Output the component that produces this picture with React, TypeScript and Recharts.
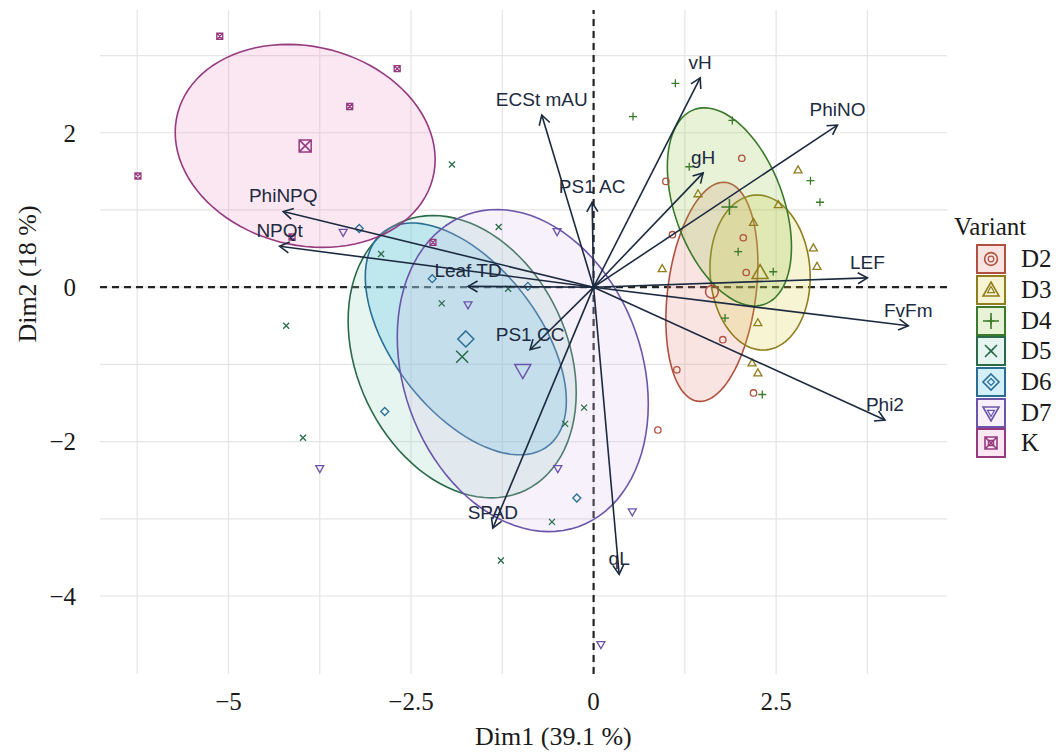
import React from 'react';
import { ScatterChart, Scatter, XAxis, YAxis, CartesianGrid, ReferenceLine } from 'recharts';

// groups (Variant)
const groups = ['D2', 'D3', 'D4', 'D5', 'D6', 'D7', 'K'];
const groupColors = ['#b0503f', '#8f7d1e', '#3a7a2a', '#2a6a4a', '#2a6e96', '#6b55aa', '#963a80'];
const groupFills = ['#e7837b', '#d7cb37', '#93c34b', '#8fd0bc', '#38b4ea', '#d4c0e6', '#ef93bf'];
const groupShapes = ['circle', 'triangle', 'plus', 'cross', 'diamond', 'triangleDown', 'squareCross'];

// individuals, Dim1 / Dim2
const pointsD2 = [
  { x: 2.03, y: 1.67 }, { x: 0.99, y: 1.37 }, { x: 2.05, y: 0.64 }, { x: 2.09, y: 0.19 },
  { x: 1.77, y: -0.68 }, { x: 1.14, y: -1.07 }, { x: 2.19, y: -1.37 }, { x: 0.88, y: -1.85 },
  { x: 1.08, y: 0.68 },
];
const pointsD3 = [
  { x: 2.8, y: 1.52 }, { x: 1.43, y: 1.21 }, { x: 2.19, y: 0.84 }, { x: 3.01, y: 0.51 },
  { x: 3.06, y: 0.27 }, { x: 0.94, y: 0.24 }, { x: 2.25, y: -0.46 }, { x: 2.17, y: -0.98 },
  { x: 2.25, y: -1.11 }, { x: 2.53, y: 1.07 },
];
const pointsD4 = [
  { x: 1.12, y: 2.64 }, { x: 0.54, y: 2.21 }, { x: 1.9, y: 2.16 }, { x: 1.31, y: 1.56 },
  { x: 2.97, y: 1.38 }, { x: 3.1, y: 1.1 }, { x: 1.98, y: 0.46 }, { x: 2.46, y: 0.2 },
  { x: 1.8, y: -0.4 }, { x: 2.31, y: -1.39 },
];
const pointsD5 = [
  { x: -1.94, y: 1.59 }, { x: -1.3, y: 0.78 }, { x: -4.21, y: -0.5 }, { x: -3.98, y: -1.95 },
  { x: -2.91, y: 0.43 }, { x: -2.08, y: -0.21 }, { x: -1.17, y: -0.02 }, { x: -0.13, y: -1.56 },
  { x: -0.39, y: -1.77 }, { x: -0.57, y: -3.04 }, { x: -1.27, y: -3.54 },
];
const pointsD6 = [
  { x: -3.21, y: 0.76 }, { x: -2.21, y: 0.11 }, { x: -0.9, y: 0.01 }, { x: -2.86, y: -1.61 },
  { x: -0.23, y: -2.73 },
];
const pointsD7 = [
  { x: -3.43, y: 0.71 }, { x: -0.5, y: 0.72 }, { x: -1.72, y: -0.23 }, { x: -0.49, y: -2.35 },
  { x: 0.53, y: -2.91 }, { x: -3.75, y: -2.35 }, { x: 0.1, y: -4.63 },
];
const pointsK = [
  { x: -5.12, y: 3.25 }, { x: -2.69, y: 2.83 }, { x: -3.34, y: 2.34 }, { x: -6.24, y: 1.44 },
  { x: -4.13, y: 0.65 }, { x: -2.2, y: 0.58 },
];
const groupPoints = [pointsD2, pointsD3, pointsD4, pointsD5, pointsD6, pointsD7, pointsK];

// group means and the two half-axis vectors of each confidence ellipse
const centroids = [[1.62, -0.06], [2.28, 0.19], [1.86, 1.04], [-1.8, -0.9], [-1.75, -0.67], [-0.97, -1.08], [-3.95, 1.83]];
const ellipseAxisA = [[0.63, 0.363], [0.685, 0], [0.85, -0.518], [1.562, -0.466], [1.377, -0.803], [1.719, -0.434], [1.78, -0.175]];
const ellipseAxisB = [[0, 1.372], [-0.04, 1.004], [0, 1.174], [0, 1.768], [0, 1.269], [0, 2.04], [0, 1.303]];

// variables (arrows)
const variables = ['vH', 'ECSt mAU', 'PhiNO', 'gH', 'PS1 AC', 'LEF', 'FvFm', 'Phi2', 'PS1 CC', 'Leaf TD', 'SPAD', 'qL', 'PhiNPQ', 'NPQt'];
const loadDim1 = [1.46, -0.71, 3.34, 1.5, -0.02, 3.75, 4.31, 3.99, -0.87, -1.72, -1.38, 0.35, -4.25, -4.3];
const loadDim2 = [2.71, 2.23, 2.1, 1.48, 1.1, 0.12, -0.5, -1.72, -0.81, 0.01, -3.12, -3.72, 0.98, 0.53];

const xTicks = [-5, -2.5, 0, 2.5];
const yTicks = [-4, -2, 0, 2];
const xGrid = [-6.25, -5, -3.75, -2.5, -1.25, 0, 1.25, 2.5, 3.75];
const yGrid = [-4, -3, -2, -1, 0, 1, 2, 3];

const ARROW = '#1c2a40';
const FILL_OPACITY = 0.22;
const SERIF = '"Liberation Serif", "Times New Roman", serif';
const SANS = '"Liberation Sans", Arial, sans-serif';

const fmt = (v: number) => (v < 0 ? '\u2212' + Math.abs(v) : String(v));

function ellipseOutline(i: number) {
  const c = centroids[i];
  const a = ellipseAxisA[i];
  const b = ellipseAxisB[i];
  const steps = 96;
  return Array.from({ length: steps }, (_, k) => {
    const t = (2 * Math.PI * k) / steps;
    return { x: c[0] + a[0] * Math.cos(t) + b[0] * Math.sin(t), y: c[1] + a[1] * Math.cos(t) + b[1] * Math.sin(t) };
  });
}

function Symbol({ shape, cx, cy, s, color, sw }: any) {
  const h = s / 2;
  const common = { fill: 'none', stroke: color, strokeWidth: sw };
  switch (shape) {
    case 'circle':
      return <circle cx={cx} cy={cy} r={h * 0.8} {...common} />;
    case 'triangle':
      return <polygon points={`${cx},${cy - h} ${cx + h},${cy + h * 0.75} ${cx - h},${cy + h * 0.75}`} {...common} />;
    case 'triangleDown':
      return <polygon points={`${cx},${cy + h} ${cx + h},${cy - h * 0.75} ${cx - h},${cy - h * 0.75}`} {...common} />;
    case 'plus':
      return <path d={`M${cx - h},${cy}H${cx + h}M${cx},${cy - h}V${cy + h}`} {...common} />;
    case 'cross':
      return <path d={`M${cx - h * 0.75},${cy - h * 0.75}L${cx + h * 0.75},${cy + h * 0.75}M${cx - h * 0.75},${cy + h * 0.75}L${cx + h * 0.75},${cy - h * 0.75}`} {...common} />;
    case 'diamond':
      return <polygon points={`${cx},${cy - h} ${cx + h},${cy} ${cx},${cy + h} ${cx - h},${cy}`} {...common} />;
    default: {
      const q = h * 0.75;
      return <path d={`M${cx - q},${cy - q}H${cx + q}V${cy + q}H${cx - q}ZM${cx - q},${cy - q}L${cx + q},${cy + q}M${cx - q},${cy + q}L${cx + q},${cy - q}`} {...common} />;
    }
  }
}

const emptyShape = () => <g />;

const ellipseLine = (i: number) => (props: any) => {
  const pts = props.points || [];
  if (!pts.length) return <g />;
  const d = pts.map((p: any, k: number) => `${k ? 'L' : 'M'}${p.x},${p.y}`).join('') + 'Z';
  return <path d={d} fill={groupFills[i]} fillOpacity={FILL_OPACITY} stroke={groupColors[i]} strokeWidth={1.6} />;
};

const arrowLine = (name: string) => (props: any) => {
  const pts = props.points || [];
  if (pts.length < 2) return <g />;
  const p0 = pts[0];
  const p1 = pts[1];
  const ang = Math.atan2(p1.y - p0.y, p1.x - p0.x);
  const L = 11;
  const sp = Math.PI / 6;
  const h1x = p1.x - L * Math.cos(ang - sp);
  const h1y = p1.y - L * Math.sin(ang - sp);
  const h2x = p1.x - L * Math.cos(ang + sp);
  const h2y = p1.y - L * Math.sin(ang + sp);
  return (
    <g>
      <line x1={p0.x} y1={p0.y} x2={p1.x} y2={p1.y} stroke={ARROW} strokeWidth={1.6} />
      <polyline points={`${h1x},${h1y} ${p1.x},${p1.y} ${h2x},${h2y}`} fill="none" stroke={ARROW} strokeWidth={1.6} />
      <text x={p1.x} y={p1.y - 16} dy="0.36em" textAnchor="middle" fontFamily={SANS} fontSize={19} fill={ARROW}>
        {name}
      </text>
    </g>
  );
};

function LegendBox() {
  return (
    <div style={{ position: 'absolute', left: 954, top: 210, fontFamily: SERIF, color: '#1a1a1a' }}>
      <div style={{ fontSize: 25, lineHeight: '34px' }}>Variant</div>
      {groups.map((g, i) => (
        <div key={g} style={{ display: 'flex', alignItems: 'center', height: 30.7, marginLeft: 22 }}>
          <svg width={30} height={30}>
            <rect x={1} y={1} width={28} height={28} fill={groupFills[i]} fillOpacity={FILL_OPACITY} stroke={groupColors[i]} strokeWidth={2} />
            <Symbol shape={groupShapes[i]} cx={15} cy={15} s={16} color={groupColors[i]} sw={1.6} />
            <Symbol shape={groupShapes[i]} cx={15} cy={15} s={7} color={groupColors[i]} sw={1.2} />
          </svg>
          <span style={{ fontSize: 25, marginLeft: 15 }}>{g}</span>
        </div>
      ))}
    </div>
  );
}

export default function App() {
  return (
    <div style={{ position: 'absolute', left: 0, top: 0, width: 1056, height: 752, background: '#fff' }}>
      <ScatterChart width={1056} height={752} margin={{ top: 10, right: 109, bottom: 0, left: 0 }}>
        <CartesianGrid stroke="#e4e4e4" strokeWidth={1.2} verticalValues={xGrid} horizontalValues={yGrid} />
        <XAxis
          type="number"
          dataKey="x"
          domain={[-6.76, 4.84]}
          ticks={xTicks}
          allowDataOverflow
          axisLine={false}
          tickLine={false}
          tickSize={6}
          tickMargin={12}
          height={78}
          tickFormatter={fmt}
          tick={{ fill: '#1a1a1a', fontSize: 25, fontFamily: SERIF }}
        />
        <YAxis
          type="number"
          dataKey="y"
          domain={[-5.01, 3.59]}
          ticks={yTicks}
          allowDataOverflow
          axisLine={false}
          tickLine={false}
          tickSize={6}
          tickMargin={18}
          width={100}
          tickFormatter={fmt}
          tick={{ fill: '#1a1a1a', fontSize: 25, fontFamily: SERIF }}
        />
        <ReferenceLine x={0} stroke="#222" strokeWidth={2.2} strokeDasharray="7 5" />
        <ReferenceLine y={0} stroke="#222" strokeWidth={2.2} strokeDasharray="7 5" />
        {groups.map((g, i) => (
          <Scatter
            key={'ell-' + g}
            data={ellipseOutline(i)}
            line={ellipseLine(i)}
            lineType="joint"
            shape={emptyShape}
            isAnimationActive={false}
          />
        ))}
        {groups.map((g, i) => (
          <Scatter
            key={'pts-' + g}
            data={groupPoints[i]}
            isAnimationActive={false}
            shape={(p: any) => <Symbol shape={groupShapes[i]} cx={p.cx} cy={p.cy} s={8} color={groupColors[i]} sw={1.3} />}
          />
        ))}
        {groups.map((g, i) => (
          <Scatter
            key={'ctr-' + g}
            data={[{ x: centroids[i][0], y: centroids[i][1] }]}
            isAnimationActive={false}
            shape={(p: any) => <Symbol shape={groupShapes[i]} cx={p.cx} cy={p.cy} s={16} color={groupColors[i]} sw={1.5} />}
          />
        ))}
        {variables.map((v, i) => (
          <Scatter
            key={'var-' + v}
            data={[{ x: 0, y: 0 }, { x: loadDim1[i], y: loadDim2[i] }]}
            line={arrowLine(v)}
            lineType="joint"
            shape={emptyShape}
            isAnimationActive={false}
          />
        ))}
      </ScatterChart>
      <div style={{ position: 'absolute', left: 475, top: 722, fontFamily: SERIF, fontSize: 26, color: '#1a1a1a', whiteSpace: 'nowrap' }}>
        Dim1 (39.1 %)
      </div>
      <div
        style={{
          position: 'absolute',
          left: 28,
          top: 274,
          transform: 'translate(-50%, -50%) rotate(-90deg)',
          fontFamily: SERIF,
          fontSize: 26,
          color: '#1a1a1a',
          whiteSpace: 'nowrap',
        }}
      >
        Dim2 (18 %)
      </div>
      <LegendBox />
    </div>
  );
}
